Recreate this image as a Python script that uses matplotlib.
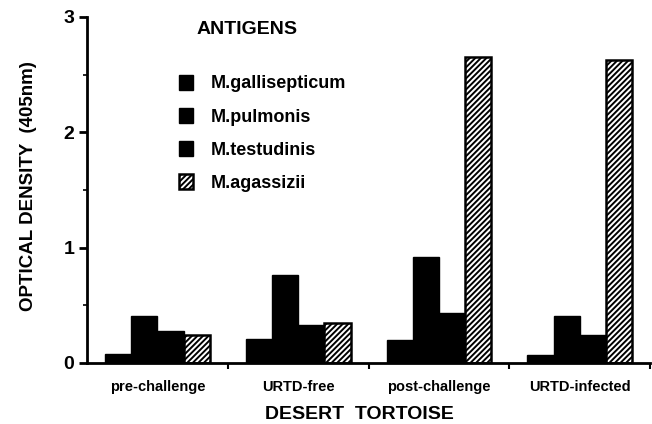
import numpy as np
import matplotlib.pyplot as plt
from matplotlib.ticker import MultipleLocator

groups = ['pre-challenge', 'URTD-free', 'post-challenge', 'URTD-infected']
antigens = ['M.gallisepticum', 'M.pulmonis', 'M.testudinis', 'M.agassizii']
gallisepticum = [0.08, 0.21, 0.20, 0.07]
pulmonis = [0.41, 0.76, 0.92, 0.41]
testudinis = [0.28, 0.33, 0.43, 0.24]
agassizii = [0.24, 0.35, 2.65, 2.63]

plt.rcParams['font.family'] = ['Liberation Sans', 'DejaVu Sans']
plt.rcParams['font.weight'] = 'bold'
plt.rcParams['hatch.linewidth'] = 1.4

fig = plt.figure(figsize=(6.52, 4.24), dpi=100)
ax = fig.add_axes([0.1334, 0.144, 0.864, 0.816])

x = np.arange(len(groups)) + 0.5
w = 0.186
series = [gallisepticum, pulmonis, testudinis, agassizii]
handles = []
for k, vals in enumerate(series):
    off = (k - 1.5) * w
    if k < 3:
        b = ax.bar(x + off, vals, w, color='black', edgecolor='black', lw=1, label=antigens[k])
    else:
        b = ax.bar(x + off, vals, w, color='white', edgecolor='black', lw=1.8, hatch='//////', label=antigens[k])
    handles.append(b)

ax.set_xlim(0, 4)
ax.set_ylim(0, 3)
for s in ['top', 'right']:
    ax.spines[s].set_visible(False)
ax.spines['left'].set_linewidth(2)
ax.spines['bottom'].set_linewidth(2)

ax.set_xticks([1, 2, 3, 4])
ax.set_xticklabels([])
ax.set_xticks(x, minor=True)
ax.set_xticklabels(groups, minor=True, fontsize=10.5, fontweight='bold')
ax.tick_params(axis='x', which='major', length=4, width=1.5, direction='out')
ax.tick_params(axis='x', which='minor', length=0, pad=12)

ax.set_yticks([0, 1, 2, 3])
ax.set_yticklabels(['0', '1', '2', '3'], fontsize=14, fontweight='bold')
ax.yaxis.set_minor_locator(MultipleLocator(0.5))
ax.tick_params(axis='y', which='major', length=6, width=2, pad=3)
ax.tick_params(axis='y', which='minor', length=3, width=1.2)

ax.set_ylabel('OPTICAL DENSITY  (405nm)', fontsize=13.5, fontweight='bold')
ax.yaxis.set_label_coords(-0.088, 0.51)
ax.set_xlabel('DESERT  TORTOISE', fontsize=14, fontweight='bold')
ax.xaxis.set_label_coords(0.483, -0.125)

ax.text(0.195, 0.965, 'ANTIGENS', transform=ax.transAxes, fontsize=14, fontweight='bold', va='center')

leg = ax.legend(handles=handles, loc='upper left', bbox_to_anchor=(0.135, 0.88), frameon=False,
                handlelength=0.75, handleheight=0.9, labelspacing=0.86, handletextpad=1.0,
                prop={'weight': 'bold', 'size': 13})

fig.savefig('out.png', dpi=100)
